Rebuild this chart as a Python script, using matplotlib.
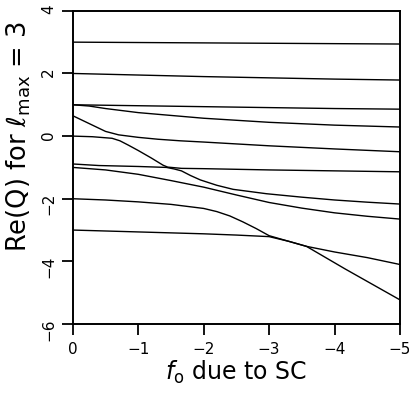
import numpy as np
import matplotlib
matplotlib.use('Agg')
import matplotlib.pyplot as plt

plt.rcParams['font.family'] = ['DejaVu Sans']
plt.rcParams['mathtext.fontset'] = 'dejavusans'

f1 = [0, -2.5, -5]
q1 = [3.0, 2.97, 2.94]

f2 = [0, -1, -2, -3, -4, -5]
q2 = [2.0, 1.95, 1.90, 1.86, 1.82, 1.79]

f3 = [0, -1, -2, -3, -4, -5]
q3 = [1.0, 0.97, 0.94, 0.91, 0.88, 0.86]

f4 = [0, -0.25, -0.5, -1, -1.5, -2, -3, -4, -5]
q4 = [1.0, 0.96, 0.88, 0.75, 0.66, 0.57, 0.44, 0.35, 0.29]

f5 = [0, -0.25, -0.5, -0.7, -1.0, -1.3, -1.64, -2, -3, -4, -5]
q5 = [0.65, 0.40, 0.15, 0.04, -0.04, -0.10, -0.15, -0.19, -0.31, -0.41, -0.50]

f6 = [0, -0.3, -0.6, -0.72, -0.85, -1.0, -1.2, -1.38, -1.45, -1.66, -2, -3, -4, -5]
q6 = [0.0, -0.02, -0.07, -0.15, -0.29, -0.46, -0.70, -0.93, -0.99, -1.03, -1.04, -1.08, -1.11, -1.14]

f7 = [0, -0.4, -1.0, -1.43, -1.55, -1.66, -1.8, -1.95, -2.2, -2.45, -2.96, -3.5, -4, -4.5, -5]
q7 = [-0.89, -0.94, -0.97, -1.0, -1.05, -1.11, -1.26, -1.40, -1.57, -1.70, -1.84, -1.95, -2.04, -2.11, -2.17]

f8 = [0, -0.5, -1.0, -1.5, -2.0, -2.5, -3, -3.5, -4, -4.5, -5]
q8 = [-1.0, -1.08, -1.22, -1.42, -1.63, -1.88, -2.12, -2.30, -2.45, -2.56, -2.65]

f9 = [0, -0.5, -1, -1.5, -2, -2.2, -2.4, -2.6, -2.8, -3.0, -3.3, -3.57, -4.0, -4.5, -5]
q9 = [-2.0, -2.04, -2.10, -2.18, -2.31, -2.41, -2.55, -2.74, -2.95, -3.18, -3.36, -3.52, -3.70, -3.88, -4.10]

f10 = [0, -1, -2, -2.5, -3.0, -3.3, -3.57, -4.16, -5]
q10 = [-3.0, -3.06, -3.12, -3.16, -3.21, -3.36, -3.52, -4.24, -5.23]

branches = [(f1, q1), (f2, q2), (f3, q3), (f4, q4), (f5, q5),
            (f6, q6), (f7, q7), (f8, q8), (f9, q9), (f10, q10)]

fig = plt.figure(figsize=(4.09, 4.01), dpi=100)
ax = fig.add_axes([0.178, 0.192, 0.8, 0.781])

for f, q in branches:
    ax.plot(f, q, color='black', lw=1.0)

ax.set_xlim(0, -5)
ax.set_ylim(-6, 4)
ax.set_xticks([0, -1, -2, -3, -4, -5])
ax.set_yticks([4, 2, 0, -2, -4, -6])

for s in ax.spines.values():
    s.set_linewidth(1.4)

ax.tick_params(direction='out', length=8, width=1.3, labelsize=11, pad=5)
ax.tick_params(axis='y', labelrotation=90, pad=4)

ax.set_xlabel(r'$f_{\rm o}$ due to SC', fontsize=17, labelpad=1)
ax.set_ylabel(r'Re(Q) for $\ell_{\rm max}$ = 3', fontsize=18.5)
ax.yaxis.set_label_coords(-0.122, 0.60)

plt.savefig('out.png', dpi=100)
